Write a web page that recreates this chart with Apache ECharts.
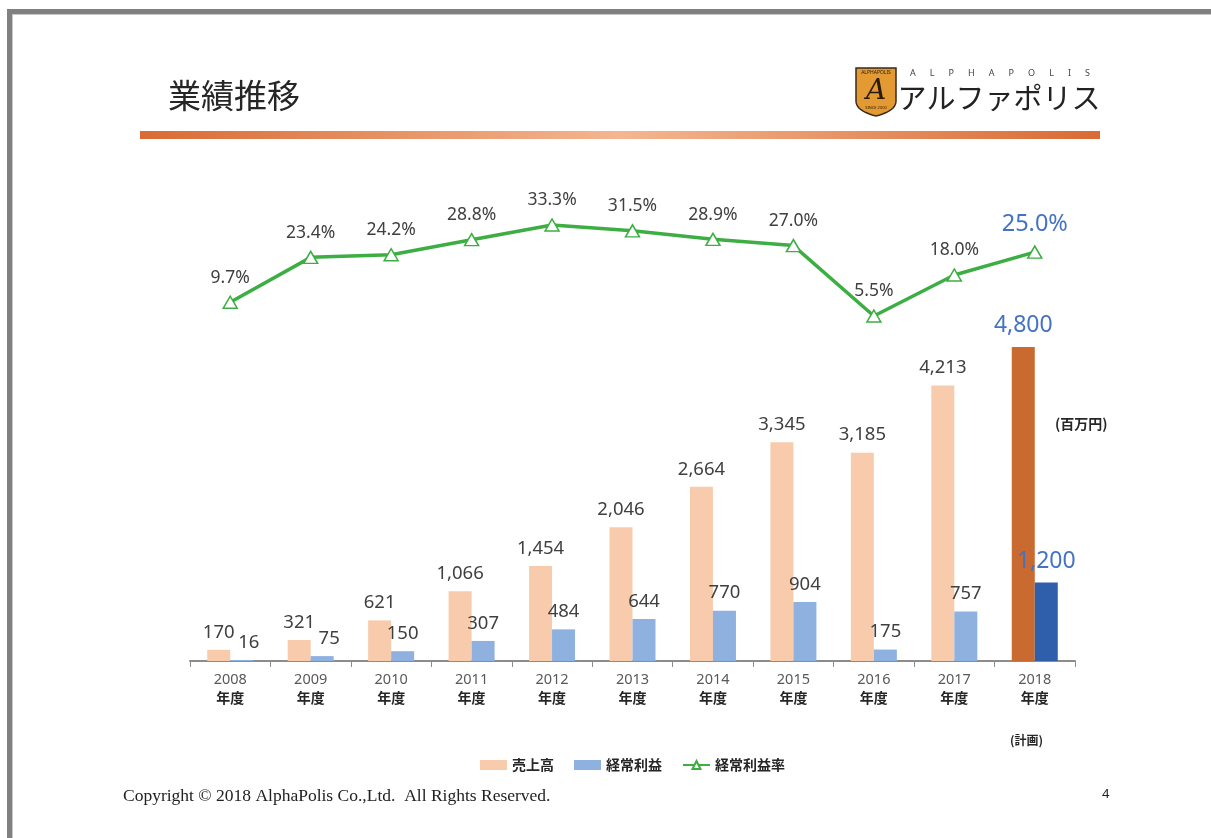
<!DOCTYPE html>
<html>
<head>
<meta charset="utf-8">
<script src="https://cdn.jsdelivr.net/npm/echarts@6/dist/echarts.min.js"></script>
<style>
html,body{margin:0;padding:0;background:#fff;}
#c{width:1211px;height:838px;}
</style>
</head>
<body>
<div id="c"></div>
<script>
// ---- data ----
const years = ['2008','2009','2010','2011','2012','2013','2014','2015','2016','2017','2018'];
const sales = [170, 321, 621, 1066, 1454, 2046, 2664, 3345, 3185, 4213, 4800];
const profit = [16, 75, 150, 307, 484, 644, 770, 904, 175, 757, 1200];
const margin = [9.7, 23.4, 24.2, 28.8, 33.3, 31.5, 28.9, 27.0, 5.5, 18.0, 25.0];
const seriesNames = ['売上高', '経常利益', '経常利益率'];
const planIndex = 10;

const NUM_FONT = '"Noto Sans", "Open Sans", sans-serif';
const JP_FONT = '"Noto Sans CJK JP", "Noto Sans", sans-serif';
const fmt = v => Number(v).toLocaleString('en-US');

const planLabel = {color: '#4472C4', fontSize: 23, distance: 10};

function barData(vals, planColor, smallShift) {
  return vals.map((v, i) => {
    if (i === planIndex) return {value: v, itemStyle: {color: planColor}, label: planLabel};
    if (smallShift && i < 2) return {value: v, label: {offset: [7, 0]}};
    return v;
  });
}
const marginData = margin.map((v, i) => i === planIndex
  ? {value: v, label: {color: '#4472C4', fontSize: 23.5, distance: 9}}
  : v);

const chart = echarts.init(document.getElementById('c'), null, {renderer: 'canvas'});

// shield outline points for the logo
const shield = [];
(function () {
  shield.push([856, 68], [896, 68], [896, 101]);
  for (let t = 0; t <= 1.0001; t += 0.1) {
    const x = (1 - t) * (1 - t) * 896 + 2 * (1 - t) * t * 896 + t * t * 876;
    const y = (1 - t) * (1 - t) * 101 + 2 * (1 - t) * t * 111 + t * t * 116;
    shield.push([x, y]);
  }
  for (let t = 0; t <= 1.0001; t += 0.1) {
    const x = (1 - t) * (1 - t) * 876 + 2 * (1 - t) * t * 856 + t * t * 856;
    const y = (1 - t) * (1 - t) * 116 + 2 * (1 - t) * t * 111 + t * t * 101;
    shield.push([x, y]);
  }
})();

const option = {
  backgroundColor: '#ffffff',
  animation: false,
  textStyle: {fontFamily: NUM_FONT},
  grid: [
    {left: 190, right: 136, top: 334, bottom: 177},
    {left: 190, right: 136, top: 203, height: 131}
  ],
  xAxis: [
    {
      type: 'category', data: years, gridIndex: 0,
      axisLine: {lineStyle: {color: '#8c8c8c', width: 2}},
      axisTick: {show: true, length: 6, lineStyle: {color: '#8c8c8c', width: 1}},
      axisLabel: {
        margin: 10,
        formatter: v => '{y|' + v + '}\n{n|年度}',
        rich: {
          y: {fontFamily: NUM_FONT, fontSize: 14.5, color: '#595959', lineHeight: 18},
          n: {fontFamily: JP_FONT, fontSize: 14, color: '#262626', fontWeight: 'bold', lineHeight: 18}
        }
      }
    },
    {type: 'category', data: years, gridIndex: 1, show: false}
  ],
  yAxis: [
    {type: 'value', gridIndex: 0, min: 0, max: 5000, show: false, splitLine: {show: false}},
    {type: 'value', gridIndex: 1, min: 0, max: 40, show: false, splitLine: {show: false}}
  ],
  legend: {
    left: 475, top: 753,
    itemWidth: 27, itemHeight: 10, itemGap: 20,
    textStyle: {fontFamily: JP_FONT, fontSize: 14, color: '#262626', fontWeight: 'bold'},
    data: [
      {name: seriesNames[0], icon: 'rect'},
      {name: seriesNames[1], icon: 'rect'},
      {name: seriesNames[2]}
    ]
  },
  series: [
    {
      name: seriesNames[0], type: 'bar', xAxisIndex: 0, yAxisIndex: 0,
      barWidth: 23, barGap: '0%',
      itemStyle: {color: '#F8CBAD'},
      data: barData(sales, '#C96A30', false),
      label: {show: true, position: 'top', distance: 8, fontSize: 18.5, color: '#404040',
        fontFamily: NUM_FONT, formatter: p => fmt(p.value)}
    },
    {
      name: seriesNames[1], type: 'bar', xAxisIndex: 0, yAxisIndex: 0,
      barWidth: 23, barGap: '0%',
      itemStyle: {color: '#8FB1DF'},
      data: barData(profit, '#2F5FAA', true),
      label: {show: true, position: 'top', distance: 8, fontSize: 18.5, color: '#404040',
        fontFamily: NUM_FONT, formatter: p => fmt(p.value)}
    },
    {
      name: seriesNames[2], type: 'line', xAxisIndex: 1, yAxisIndex: 1,
      data: marginData,
      symbol: 'triangle', symbolSize: [14, 12], showAllSymbol: true,
      lineStyle: {color: '#3DAE43', width: 3.5},
      itemStyle: {color: '#ffffff', borderColor: '#3DAE43', borderWidth: 1.5},
      label: {show: true, position: 'top', distance: 9, fontSize: 17.5, color: '#404040',
        fontFamily: NUM_FONT, formatter: p => p.value.toFixed(1) + '%'},
      z: 5
    }
  ],
  graphic: [
    // page frame
    {type: 'rect', shape: {x: 7, y: 9, width: 1204, height: 5}, style: {fill: '#808080'}, silent: true},
    {type: 'rect', shape: {x: 7, y: 9, width: 5, height: 829}, style: {fill: '#808080'}, silent: true},
    {type: 'rect', shape: {x: 12, y: 14, width: 1199, height: 1}, style: {fill: '#c8c8c8'}, silent: true},
    {type: 'rect', shape: {x: 12, y: 14, width: 1, height: 824}, style: {fill: '#c8c8c8'}, silent: true},
    // title
    {type: 'text', x: 168, y: 95, style: {text: '業績推移', fontFamily: JP_FONT, fontSize: 33, fill: '#262626', verticalAlign: 'middle'}},
    // gradient rule
    {type: 'rect', shape: {x: 140, y: 131, width: 960, height: 8},
      style: {fill: new echarts.graphic.LinearGradient(0, 0, 1, 0, [
        {offset: 0, color: '#D96B34'},
        {offset: 0.5, color: '#F4B690'},
        {offset: 1, color: '#D96B34'}
      ])}, silent: true},
    // logo
    {type: 'polygon', shape: {points: shield}, style: {fill: '#E39A33', stroke: '#3b2a18', lineWidth: 1.5}, silent: true},
    {type: 'text', x: 876, y: 73, style: {text: 'ALPHAPOLIS', fontSize: 5, fill: '#2a1a0a', align: 'center', verticalAlign: 'middle', fontFamily: NUM_FONT}},
    {type: 'text', x: 876, y: 92, style: {text: 'A', fontSize: 28, fill: '#2a1a0a', align: 'center', verticalAlign: 'middle', fontFamily: '"DejaVu Serif", serif', fontStyle: 'italic'}},
    {type: 'text', x: 876, y: 108, style: {text: 'SINCE 2000', fontSize: 4, fill: '#2a1a0a', align: 'center', verticalAlign: 'middle', fontFamily: NUM_FONT}},
    {type: 'text', x: 1000, y: 73, style: {text: 'A      L      P      H      A      P      O      L      I      S', fontSize: 9, fill: '#444', align: 'center', verticalAlign: 'middle', fontFamily: NUM_FONT}},
    {type: 'text', x: 999, y: 98, style: {text: 'アルファポリス', fontSize: 29, fill: '#222', align: 'center', verticalAlign: 'middle', fontFamily: JP_FONT}},
    // unit and plan notes
    {type: 'text', x: 1055, y: 424, style: {text: '(百万円)', fontFamily: JP_FONT, fontSize: 14, fontWeight: 'bold', fill: '#262626', verticalAlign: 'middle'}},
    {type: 'text', x: 1010, y: 740, style: {text: '(計画)', fontFamily: JP_FONT, fontSize: 12, fontWeight: 'bold', fill: '#262626', verticalAlign: 'middle'}},
    // footer
    {type: 'text', x: 123, y: 796, style: {text: 'Copyright © 2018 AlphaPolis Co.,Ltd.  All Rights Reserved.', fontFamily: '"Liberation Serif", "DejaVu Serif", serif', fontSize: 17.5, fill: '#222', verticalAlign: 'middle'}},
    {type: 'text', x: 1102, y: 794, style: {text: '4', fontFamily: NUM_FONT, fontSize: 13, fill: '#222', verticalAlign: 'middle'}}
  ]
};
chart.setOption(option);
</script>
</body>
</html>
